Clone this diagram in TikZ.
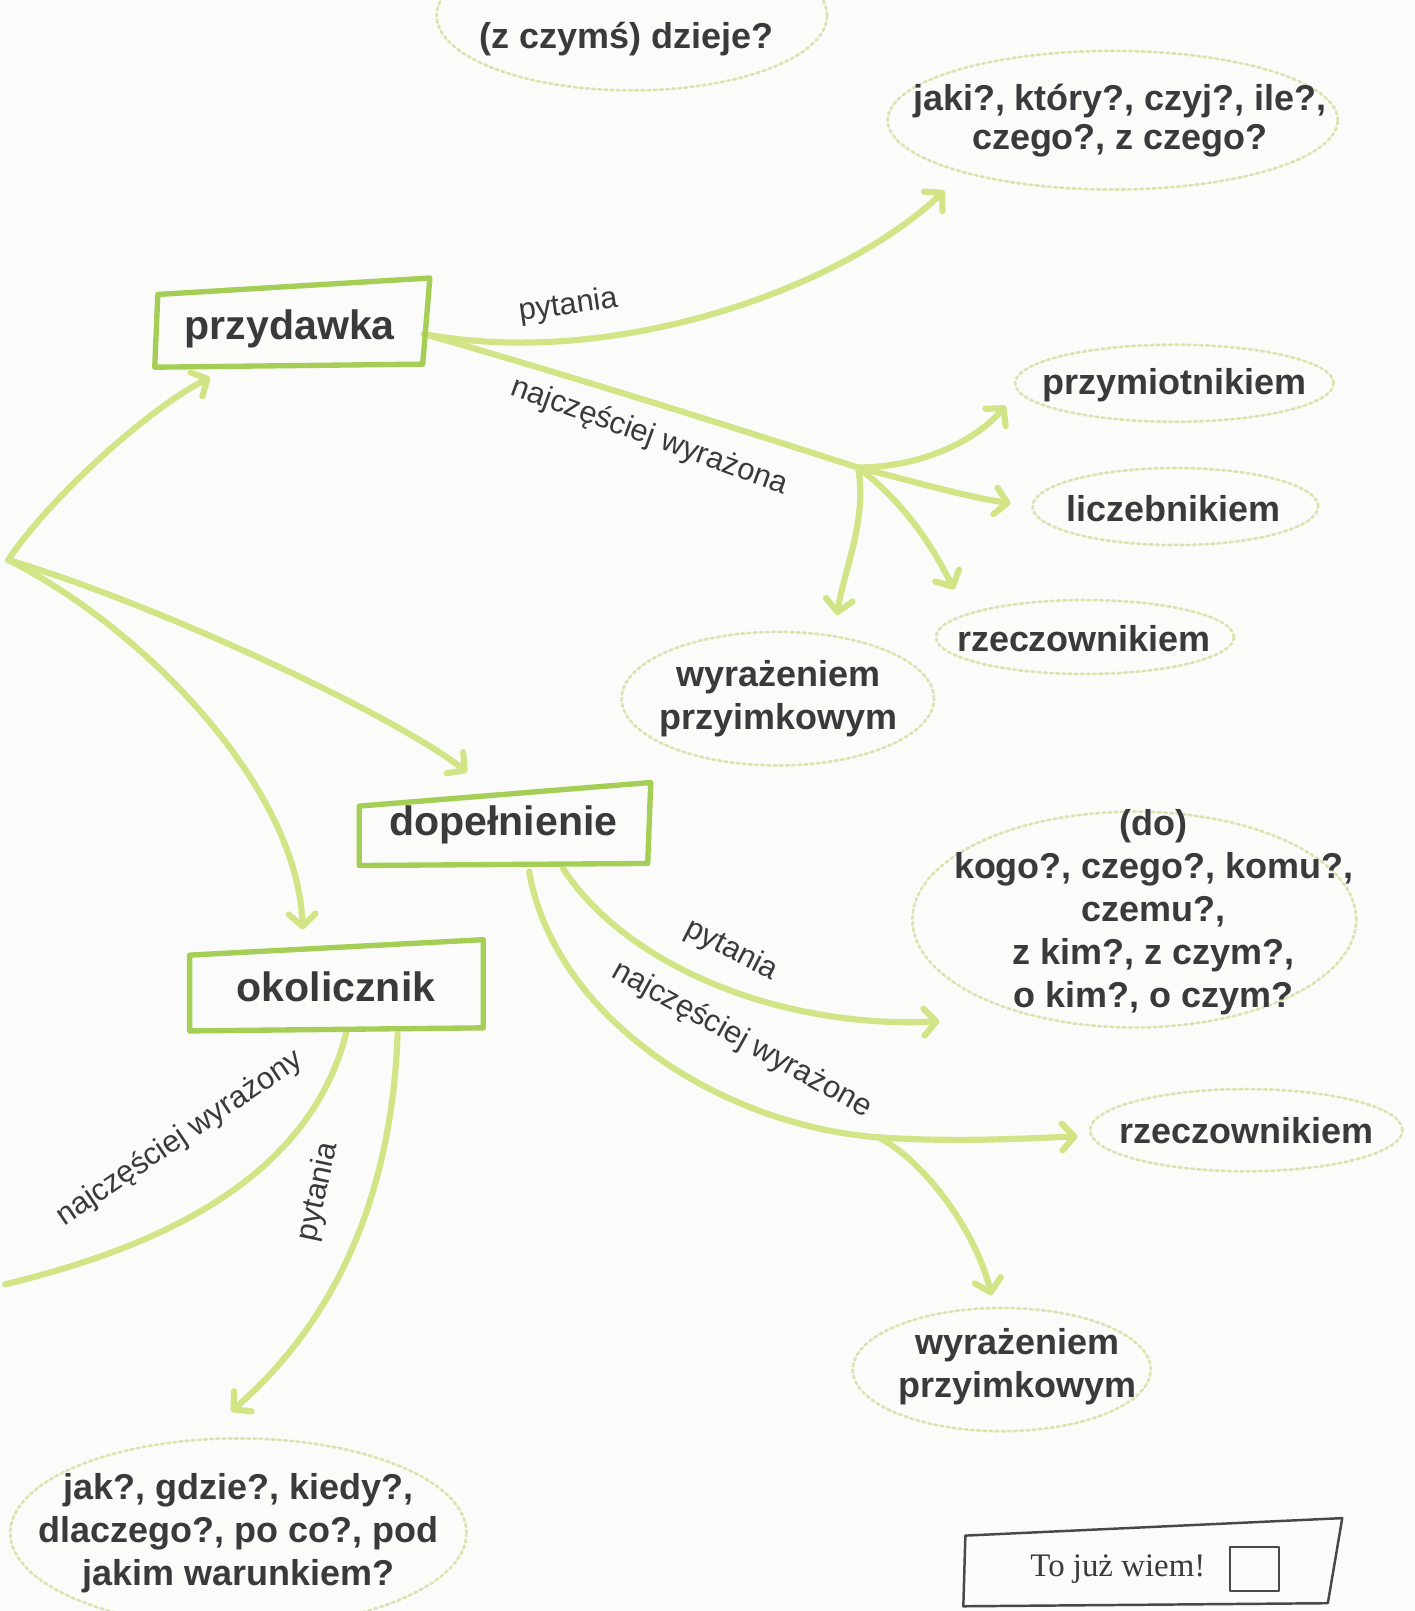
\documentclass[tikz,border=0pt]{standalone}
\usepackage{fontspec}
\setmainfont{Liberation Sans}
\newfontfamily\szeryf{Liberation Serif}
\usetikzlibrary{arrows.meta, shapes.geometric, positioning}

\definecolor{zielen}{RGB}{164,206,86}
\definecolor{limonka}{RGB}{210,229,134}
\definecolor{kropki}{RGB}{218,228,176}
\definecolor{tekst}{RGB}{58,58,60}
\definecolor{ramkawiem}{RGB}{72,72,72}
\definecolor{tlo}{RGB}{251,251,249}

\tikzset{
	haslo/.style={minimum width=130pt, minimum height=40pt, inner sep=0pt,
		text=tekst, font=\bfseries\fontsize{20}{24}\selectfont},
	ramka/.style={draw=zielen, line width=2.6pt, line join=round},
	dymek/.style={ellipse, draw=kropki, line width=1.3pt,
		dash pattern=on 1.4pt off 1.6pt, inner sep=0pt},
	napis/.style={text=tekst, align=center, inner sep=0pt,
		font=\bfseries\fontsize{17.5}{21}\selectfont},
	galaz/.style={draw=limonka, line width=3pt, line cap=round},
	strzalka/.style={galaz, -{Straight Barb[length=6pt, width=13pt, round]}},
	etykieta/.style={text=tekst, inner sep=1pt, font=\fontsize{15}{18}\selectfont},
}

\begin{document}
\begin{tikzpicture}[x=0.5pt, y=-0.5pt, line cap=round, line join=round]
\useasboundingbox (0,0) rectangle (1377,1568);
\clip (0,0) rectangle (1377,1568);
\fill[tlo] (0,0) rectangle (1377,1568);

%========================
% main boxes
%========================
\node[haslo] (przydawka) at (282,320) {przydawka};
\node[haslo, minimum width=140pt, minimum height=38pt] (dopelnienie) at (490,803) {dopełnienie};
\node[haslo, minimum width=142pt] (okolicznik) at (327,960) {okolicznik};

%========================
% dotted bubbles
%========================
\node[dymek, minimum width=190pt, minimum height=73pt] (dzieje) at (615,15) {};
\node[napis] (dziejetxt) at (610,38) {(z czymś) dzieje?};

\node[dymek, minimum width=219pt, minimum height=67.5pt] (jaki) at (1083,117) {};
\node[napis, font=\bfseries\fontsize{17.5}{19}\selectfont] (jakitxt) at (1090,117)
	{jaki?, który?, czyj?, ile?,\\czego?, z czego?};

\node[dymek, minimum width=155pt, minimum height=37.5pt] (przym) at (1143,373) {};
\node[napis] (przymtxt) at (1143,375) {przymiotnikiem};

\node[dymek, minimum width=139pt, minimum height=37.5pt] (licz) at (1144,493) {};
\node[napis] (licztxt) at (1142,495) {liczebnikiem};

\node[dymek, minimum width=145pt, minimum height=36pt] (rzecz1) at (1056,620) {};
\node[napis] (rzecz1txt) at (1055,622) {rzeczownikiem};

\node[dymek, minimum width=152pt, minimum height=65pt] (wyr1) at (757,680) {};
\node[napis] (wyr1txt) at (758,680) {wyrażeniem\\przyimkowym};

\node[dymek, minimum width=216pt, minimum height=105pt] (dokogo) at (1104,895) {};
\node[napis] (dokogotxt) at (1123,888)
	{(do)\\kogo?, czego?, komu?,\\czemu?,\\z kim?, z czym?,\\o kim?, o czym?};

\node[dymek, minimum width=152pt, minimum height=40pt] (rzecz2) at (1213,1100) {};
\node[napis] (rzecz2txt) at (1213,1100) {rzeczownikiem};

\node[dymek, minimum width=145pt, minimum height=60pt] (wyr2) at (975,1333) {};
\node[napis] (wyr2txt) at (990,1330) {wyrażeniem\\przyimkowym};

\node[dymek, minimum width=222pt, minimum height=92pt] (jak) at (232,1492) {};
\node[napis] (jaktxt) at (232,1492) {jak?, gdzie?, kiedy?,\\dlaczego?, po co?, pod\\jakim warunkiem?};

% branch points
\coordinate (wezel) at (8,545);
\coordinate (rozw1) at (835,455);
\coordinate (rozw2) at (855,1107);
\coordinate (wyjscie) at (5,1250);

%========================
% connectors
%========================
% root
\draw[strzalka] (wezel) .. controls +(40,-60) and +(-60,30) .. ([shift={(53,7)}]przydawka.south west);
\draw[strzalka] (wezel) .. controls +(150,45) and +(-70,-55) .. ([shift={(105,-13)}]dopelnienie.north west);
\draw[strzalka] (wezel) .. controls +(130,65) and +(-5,-140) .. ([shift={(110,-15)}]okolicznik.north west);

% przydawka
\draw[strzalka] ([shift={(0,5)}]przydawka.east) .. controls +(185,35) and +(-100,95) .. ([shift={(-8,20)}]jaki.south west);
\draw[galaz] ([shift={(0,5)}]przydawka.east) .. controls +(140,40) and +(-140,-45) .. (rozw1);
\draw[strzalka] (rozw1) .. controls +(60,0) and +(-30,35) .. ([shift={(-8,22)}]przym.west);
\draw[strzalka] (rozw1) .. controls +(60,15) and +(-50,-8) .. ([shift={(-20,-3)}]licz.west);
\draw[strzalka] (rozw1) .. controls +(40,30) and +(-25,-50) .. ([shift={(-24,-20)}]rzecz1.north west);
\draw[strzalka] (rozw1) .. controls +(10,50) and +(5,-40) .. ([shift={(58,-15)}]wyr1.north);

% dopelnienie
\draw[strzalka] ([shift={(58,4)}]dopelnienie.south) .. controls +(62,95) and +(-155,7) .. ([shift={(-36,24)}]dokogo.south west);
\draw[galaz] ([shift={(25,7)}]dopelnienie.south) .. controls +(25,142) and +(-155,-12) .. (rozw2);
\draw[strzalka] (rozw2) .. controls +(75,5) and +(-50,2) .. ([shift={(-11,6)}]rzecz2.west);
\draw[strzalka] (rozw2) .. controls +(45,23) and +(-15,-62) .. ([shift={(-10,-11)}]wyr2.north);

% okolicznik
\draw[galaz] ([shift={(10,5)}]okolicznik.south) .. controls +(-37,145) and +(145,-35) .. (wyjscie);
\draw[strzalka] ([shift={(60,6)}]okolicznik.south) .. controls +(-7,194) and +(75,-65) .. ([shift={(-7,-25)}]jak.north);

% labels
\node[etykieta, rotate=8] (pyt1) at (553,298) {pytania};
\node[etykieta, rotate=-20] (wyra) at (632,425) {najczęściej wyrażona};
\node[etykieta, rotate=-27] (pyt2) at (712,925) {pytania};
\node[etykieta, rotate=-29] (wyrb) at (722,1012) {najczęściej wyrażone};
\node[etykieta, rotate=34] (wyrc) at (175,1108) {najczęściej wyrażony};
\node[etykieta, rotate=78] (pyt3) at (310,1160) {pytania};

%========================
% hand-drawn frames
%========================
\draw[ramka] ([shift={(2,7)}]przydawka.north west) -- ([shift={(6,-9)}]przydawka.north east)
	-- ([shift={(-1,-6)}]przydawka.south east) -- ([shift={(-1,-3)}]przydawka.south west) -- cycle;
\draw[ramka] ([shift={(0,20)}]dopelnienie.north west) -- ([shift={(3,-3)}]dopelnienie.north east)
	-- ([shift={(0,-1)}]dopelnienie.south east) -- ([shift={(0,1)}]dopelnienie.south west) -- cycle;
\draw[ramka] ([shift={(0,10)}]okolicznik.north west) -- ([shift={(1,-5)}]okolicznik.north east)
	-- ([shift={(1,0)}]okolicznik.south east) -- ([shift={(0,3)}]okolicznik.south west) -- cycle;

% To juz wiem
\node[minimum width=180pt, minimum height=35pt, inner sep=0pt] (wiem) at (1122,1522) {};
\draw[draw=ramkawiem, line width=1.2pt] ([shift={(-2,8)}]wiem.north west) -- ([shift={(4,-9)}]wiem.north east)
	-- ([shift={(-10,3)}]wiem.south east) -- ([shift={(-4,6)}]wiem.south west) -- cycle;
\node[text=tekst, font=\szeryf\fontsize{16}{19}\selectfont] (wiemtxt) at (1088,1527) {To już wiem!};
\node[draw=ramkawiem, line width=0.8pt, minimum width=24pt, minimum height=21.5pt, inner sep=0pt,
	right=8pt of wiemtxt] (kratka) {};
\end{tikzpicture}
\end{document}
